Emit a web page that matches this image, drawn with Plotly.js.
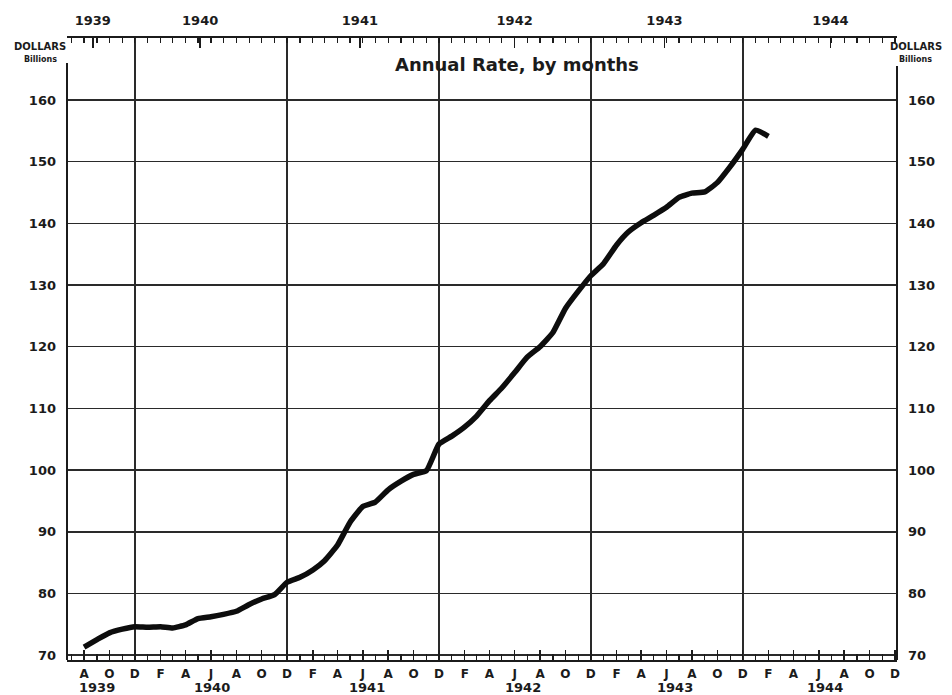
<!DOCTYPE html>
<html>
<head>
<meta charset="utf-8">
<script src="https://cdn.plot.ly/plotly-3.0.1.min.js"></script>
<style>
  html, body { margin: 0; padding: 0; background: #ffffff; }
  #chart { width: 952px; height: 695px; }
</style>
</head>
<body>
<div id="chart"></div>
<script>
// ---- data ----
const months = [
  '1939-08','1939-09','1939-10','1939-11','1939-12',
  '1940-01','1940-02','1940-03','1940-04','1940-05','1940-06','1940-07','1940-08','1940-09','1940-10','1940-11','1940-12',
  '1941-01','1941-02','1941-03','1941-04','1941-05','1941-06','1941-07','1941-08','1941-09','1941-10','1941-11','1941-12',
  '1942-01','1942-02','1942-03','1942-04','1942-05','1942-06','1942-07','1942-08','1942-09','1942-10','1942-11','1942-12',
  '1943-01','1943-02','1943-03','1943-04','1943-05','1943-06','1943-07','1943-08','1943-09','1943-10','1943-11','1943-12',
  '1944-01','1944-02'
];
const annualRate = [
  71.3, 72.5, 73.6, 74.2, 74.6,
  74.5, 74.6, 74.4, 74.9, 75.9, 76.2, 76.6, 77.1, 78.2, 79.1, 79.8, 81.8,
  82.6, 83.8, 85.3, 87.8, 91.5, 94.1, 94.8, 96.8, 98.2, 99.3, 99.9, 104.2,
  105.5, 107.0, 108.7, 111.2, 113.3, 115.8, 118.3, 120.0, 122.3, 126.2, 129.0, 131.5,
  133.5, 136.5, 138.6, 140.1, 141.3, 142.6, 144.2, 144.9, 145.1, 146.6, 149.2, 152.0,
  155.1, 154.1
];
const yTickValues = [70, 80, 90, 100, 110, 120, 130, 140, 150, 160];
const yTickLabels = ['70','80','90','100','110','120','130','140','150','160'];
const monthLetters = ['J','F','M','A','M','J','J','A','S','O','N','D'];
const yearLabels = ['1939','1940','1941','1942','1943','1944'];
const topYearTicks = ['1939-08-22','1940-05-06','1941-05-25','1942-06-01','1943-05-27','1944-06-29'];
const bottomYearTicks = ['1939-09-01','1940-06-04','1941-06-10','1942-06-20','1943-06-21','1944-06-15'];
const yearBoundaries = ['1939-12-01','1940-12-01','1941-12-01','1942-12-01','1943-12-01'];

// ---- build ticks ----
const bottomTickVals = [], bottomTickText = [];
for (let y = 1939; y <= 1944; y++) {
  for (let m = 1; m <= 12; m++) {
    if (y === 1939 && m < 8) continue;
    if (m % 2 === 0) {
      bottomTickVals.push(y + '-' + String(m).padStart(2, '0') + '-01');
      bottomTickText.push(monthLetters[m - 1]);
    }
  }
}
const monthlyMinor = [];
for (let y = 1939; y <= 1944; y++) {
  for (let m = 1; m <= 12; m++) {
    if (y === 1939 && m < 7) continue;
    monthlyMinor.push(y + '-' + String(m).padStart(2, '0') + '-01');
  }
}

const xRange = ['1939-06-21', '1944-12-06'];
const yRange = [69.2, 170.05];
const ink = '#1b1b1b';
const fontBase = { family: 'DejaVu Sans, Arial, sans-serif', color: ink, weight: 'bold' };

const trace = {
  x: months.map(m => m + '-01'),
  y: annualRate,
  type: 'scatter',
  mode: 'lines',
  line: { color: '#0d0d0d', width: 5.5, shape: 'spline', smoothing: 0.4 },
  hoverinfo: 'x+y',
  xaxis: 'x',
  yaxis: 'y'
};

const plotW = 952 - 67 - 55;
const annotations = [];
yearLabels.forEach((t, i) => {
  annotations.push({
    x: bottomYearTicks[i], xref: 'x', y: -0.045, yref: 'paper',
    text: t, showarrow: false, xanchor: 'center', yanchor: 'middle',
    font: Object.assign({}, fontBase, { size: 13 })
  });
});
[40, 916].forEach(px => {
  const xp = (px - 67) / plotW;
  annotations.push({
    x: xp, xref: 'paper', y: 1 - (47 - 38) / 622, yref: 'paper',
    text: 'DOLLARS', showarrow: false, xanchor: 'center', yanchor: 'middle',
    font: Object.assign({}, fontBase, { size: 10 })
  });
  annotations.push({
    x: xp, xref: 'paper', y: 1 - (59 - 38) / 622, yref: 'paper',
    text: 'Billions', showarrow: false, xanchor: 'center', yanchor: 'middle',
    font: Object.assign({}, fontBase, { size: 8 })
  });
});

const shapes = [
  { type: 'line', xref: 'paper', yref: 'y', x0: 0, x1: 0, y0: yRange[0], y1: 166,
    line: { color: ink, width: 2 } },
  { type: 'line', xref: 'paper', yref: 'y', x0: 1, x1: 1, y0: yRange[0], y1: 165.5,
    line: { color: ink, width: 2 } }
];

const layout = {
  width: 952, height: 695,
  margin: { l: 67, r: 55, t: 38, b: 35, pad: 0 },
  paper_bgcolor: '#ffffff', plot_bgcolor: '#ffffff',
  showlegend: false,
  font: fontBase,
  title: {
    text: 'Annual Rate, by months',
    x: 0.543, xanchor: 'center', xref: 'container',
    y: 1 - 65 / 695, yanchor: 'middle', yref: 'container',
    font: Object.assign({}, fontBase, { size: 18 })
  },
  xaxis: {
    type: 'date', range: xRange, showgrid: false, zeroline: false,
    showline: true, linecolor: ink, linewidth: 2,
    tickmode: 'array', tickvals: bottomTickVals, ticktext: bottomTickText,
    ticks: 'inside', ticklen: 10, tickwidth: 1.5, tickcolor: ink,
    minor: { tickmode: 'array', tickvals: monthlyMinor, ticks: 'inside', ticklen: 6, tickwidth: 1.2, tickcolor: ink, showgrid: false },
    tickfont: Object.assign({}, fontBase, { size: 12 }),
    ticklabelstandoff: 2,
    fixedrange: true
  },
  xaxis2: {
    type: 'date', range: xRange, overlaying: 'x', side: 'top', anchor: 'y',
    showgrid: false, zeroline: false,
    showline: true, linecolor: ink, linewidth: 2,
    tickmode: 'array', tickvals: topYearTicks, ticktext: yearLabels,
    ticks: 'inside', ticklen: 10, tickwidth: 1.5, tickcolor: ink,
    minor: { tickmode: 'array', tickvals: monthlyMinor, ticks: 'inside', ticklen: 5, tickwidth: 1.2, tickcolor: ink, showgrid: false },
    tickfont: Object.assign({}, fontBase, { size: 13 }),
    ticklabelstandoff: 6,
    fixedrange: true
  },
  xaxis3: {
    type: 'date', range: xRange, overlaying: 'x', anchor: 'y',
    showgrid: true, gridcolor: '#2a2a2a', gridwidth: 2,
    tickmode: 'array', tickvals: yearBoundaries,
    showticklabels: false, ticks: '', zeroline: false, showline: false,
    fixedrange: true
  },
  yaxis: {
    range: yRange, showgrid: true, gridcolor: '#2a2a2a', gridwidth: 1.6,
    zeroline: false, showline: false,
    tickmode: 'array', tickvals: yTickValues, ticktext: yTickLabels,
    ticks: '', tickfont: Object.assign({}, fontBase, { size: 13 }),
    ticklabelstandoff: 10,
    fixedrange: true
  },
  yaxis2: {
    range: yRange, overlaying: 'y', side: 'right', anchor: 'x',
    showgrid: false, zeroline: false, showline: false,
    tickmode: 'array', tickvals: yTickValues, ticktext: yTickLabels,
    ticks: '', tickfont: Object.assign({}, fontBase, { size: 13 }),
    ticklabelstandoff: 10,
    fixedrange: true
  },
  annotations: annotations,
  shapes: shapes
};

const helperTop = { x: [xRange[0]], y: [yRange[0]], type: 'scatter', mode: 'none', xaxis: 'x2', yaxis: 'y', hoverinfo: 'skip', showlegend: false };
const helperGrid = { x: [xRange[0]], y: [yRange[0]], type: 'scatter', mode: 'none', xaxis: 'x3', yaxis: 'y', hoverinfo: 'skip', showlegend: false };
const helperRight = { x: [xRange[0]], y: [yRange[0]], type: 'scatter', mode: 'none', xaxis: 'x', yaxis: 'y2', hoverinfo: 'skip', showlegend: false };

Plotly.newPlot('chart', [helperGrid, helperTop, helperRight, trace], layout, { displayModeBar: false, staticPlot: true });
</script>
</body>
</html>
